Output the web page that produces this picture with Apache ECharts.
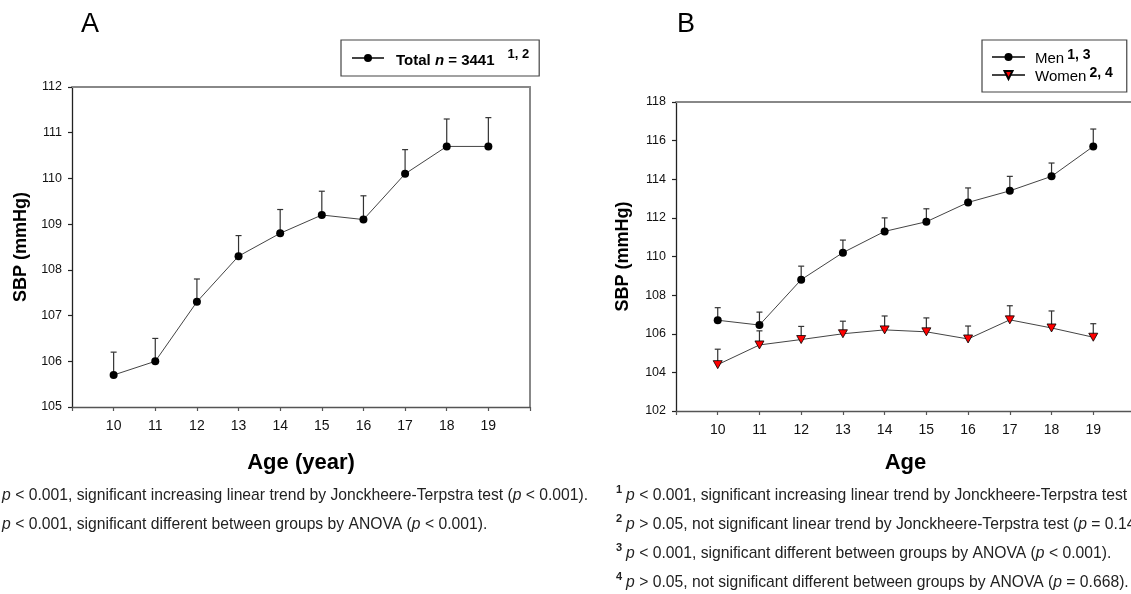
<!DOCTYPE html>
<html>
<head>
<meta charset="utf-8">
<script src="https://cdn.jsdelivr.net/npm/echarts@6/dist/echarts.min.js"></script>
<style>
  html, body { margin: 0; padding: 0; background: #fff; }
  #chart { width: 1131px; height: 594px; }
</style>
</head>
<body>
<div id="chart"></div>
<script>
// Age groups (years)
const ages = [10, 11, 12, 13, 14, 15, 16, 17, 18, 19];

// Panel A: whole sample, mean SBP and upper whisker (mmHg)
const totalMean  = [105.7, 106.0, 107.3, 108.3, 108.8, 109.2, 109.1, 110.1, 110.7, 110.7];
const totalUpper = [106.2, 106.5, 107.8, 108.75, 109.32, 109.72, 109.62, 110.63, 111.3, 111.33];

// Panel B: by sex
const menMean    = [106.7, 106.45, 108.8, 110.2, 111.3, 111.8, 112.8, 113.4, 114.15, 115.7];
const menUpper   = [107.35, 107.12, 109.5, 110.85, 112.0, 112.47, 113.55, 114.15, 114.84, 116.6];
const womenMean  = [104.4, 105.42, 105.7, 106.0, 106.2, 106.1, 105.73, 106.72, 106.3, 105.82];
const womenUpper = [105.2, 106.15, 106.38, 106.65, 106.92, 106.82, 106.4, 107.45, 107.18, 106.52];

// Axis ranges / ticks
const xRange = { min: 9, max: 20, interval: 1 };
const yRangeA = { min: 105, max: 112, interval: 1 };
const yRangeB = { min: 102, max: 118, interval: 2 };

// Footnote texts
const notesA = [
  ['1', 'p', ' < 0.001, significant increasing linear trend by Jonckheere-Terpstra test (', 'p', ' < 0.001).'],
  ['2', 'p', ' < 0.001, significant different between groups by ANOVA (', 'p', ' < 0.001).']
];
const notesB = [
  ['1', 'p', ' < 0.001, significant increasing linear trend by Jonckheere-Terpstra test (', 'p', ' < 0.001).'],
  ['2', 'p', ' > 0.05, not significant linear trend by Jonckheere-Terpstra test (', 'p', ' = 0.14).'],
  ['3', 'p', ' < 0.001, significant different between groups by ANOVA (', 'p', ' < 0.001).'],
  ['4', 'p', ' > 0.05, not significant different between groups by ANOVA (', 'p', ' = 0.668).']
];

const FONT = '"Liberation Sans", Arial, sans-serif';

function pairs(vals) { return ages.map((a, i) => [a, vals[i]]); }
function triples(mean, upper) { return ages.map((a, i) => [a, mean[i], upper[i]]); }

function errorBars(name, gi, mean, upper) {
  return {
    name: name,
    type: 'custom',
    xAxisIndex: gi * 2,
    yAxisIndex: gi * 2,
    silent: true,
    z: 1,
    encode: { x: 0, y: [1, 2] },
    data: triples(mean, upper),
    renderItem: function (params, api) {
      const p0 = api.coord([api.value(0), api.value(1)]);
      const p1 = api.coord([api.value(0), api.value(2)]);
      const st = { stroke: '#333', lineWidth: 1.2 };
      return {
        type: 'group',
        children: [
          { type: 'line', shape: { x1: p0[0], y1: p0[1], x2: p1[0], y2: p1[1] }, style: st },
          { type: 'line', shape: { x1: p1[0] - 3, y1: p1[1], x2: p1[0] + 3, y2: p1[1] }, style: st }
        ]
      };
    }
  };
}

function xAxes(gi, title, gap) {
  return [
    {
      gridIndex: gi, type: 'value', position: 'bottom',
      min: xRange.min, max: xRange.max, interval: xRange.interval,
      axisLine: { show: true, lineStyle: { color: '#555', width: 1.3 } },
      axisTick: { show: true, length: 4, lineStyle: { color: '#555', width: 1.2 } },
      axisLabel: {
        show: true, margin: 12, fontSize: 14, fontFamily: FONT, color: '#111',
        formatter: v => (v >= ages[0] && v <= ages[ages.length - 1]) ? String(v) : ''
      },
      splitLine: { show: false },
      name: title, nameLocation: 'middle', nameGap: gap,
      nameTextStyle: { fontSize: 22, fontWeight: 'bold', fontFamily: FONT, color: '#000' }
    },
    {
      gridIndex: gi, type: 'value', position: 'top',
      min: xRange.min, max: xRange.max, interval: xRange.interval,
      axisLine: { show: true, lineStyle: { color: '#888', width: 2 } },
      axisTick: { show: false }, axisLabel: { show: false }, splitLine: { show: false }
    }
  ];
}

function yAxes(gi, range, gap) {
  return [
    {
      gridIndex: gi, type: 'value', position: 'left',
      min: range.min, max: range.max, interval: range.interval,
      axisLine: { show: true, lineStyle: { color: '#222', width: 1.3 } },
      axisTick: { show: true, length: 4, lineStyle: { color: '#222', width: 1.2 } },
      axisLabel: { show: true, margin: 10, fontSize: 12.5, fontFamily: FONT, color: '#111' },
      splitLine: { show: false },
      name: 'SBP (mmHg)', nameLocation: 'middle', nameGap: gap,
      nameTextStyle: { fontSize: 18, fontWeight: 'bold', fontFamily: FONT, color: '#000' }
    },
    {
      gridIndex: gi, type: 'value', position: 'right',
      min: range.min, max: range.max, interval: range.interval,
      axisLine: { show: true, lineStyle: { color: '#888', width: 2 } },
      axisTick: { show: false }, axisLabel: { show: false }, splitLine: { show: false }
    }
  ];
}

function footnote(parts, left, top) {
  return {
    type: 'text', left: left, top: top, silent: true,
    style: {
      text: '{s|' + parts[0] + '}{i|' + parts[1] + '}{t|' + parts[2] + '}{i|' + parts[3] + '}{t|' + parts[4] + '}',
      fill: '#222',
      rich: {
        s: { fontSize: 11, fontWeight: 'bold', fontFamily: FONT, fill: '#222', lineHeight: 14, verticalAlign: 'top', padding: [0, 4, 0, 0] },
        i: { fontSize: 15.7, fontStyle: 'italic', fontFamily: FONT, fill: '#222', lineHeight: 20, verticalAlign: 'bottom' },
        t: { fontSize: 15.7, fontFamily: FONT, fill: '#222', lineHeight: 20, verticalAlign: 'bottom' }
      }
    }
  };
}

const graphics = [
  { type: 'text', left: 81, top: 11, silent: true, style: { text: 'A', font: '27px ' + FONT, fill: '#000' } },
  { type: 'text', left: 677, top: 11, silent: true, style: { text: 'B', font: '27px ' + FONT, fill: '#000' } }
];
notesA.forEach((n, i) => graphics.push(footnote(n, -8, 484 + i * 29)));
notesB.forEach((n, i) => graphics.push(footnote(n, 616, 484 + i * 29)));

const option = {
  animation: false,
  backgroundColor: '#fff',
  grid: [
    { left: 72, top: 87, width: 458, height: 320, containLabel: false, outerBoundsMode: 'none' },
    { left: 676, top: 102, width: 459, height: 309, containLabel: false, outerBoundsMode: 'none' }
  ],
  xAxis: xAxes(0, 'Age (year)', 45).concat(xAxes(1, 'Age', 41)),
  yAxis: yAxes(0, yRangeA, 42).concat(yAxes(1, yRangeB, 44)),
  legend: [
    {
      data: ['Total'], left: 341, top: 40, selectedMode: false,
      padding: [8, 10, 8, 10], itemWidth: 32, itemHeight: 10,
      borderColor: '#444', borderWidth: 1.2, backgroundColor: '#fff',
      formatter: () => '{b0|Total }{bi|n}{b| = 3441}{s|1, 2}',
      textStyle: {
        rich: {
          b0: { fontSize: 15, fontWeight: 'bold', fontFamily: FONT, color: '#000', lineHeight: 20, verticalAlign: 'bottom', padding: [0, 0, 0, 7] },
          b:  { fontSize: 15, fontWeight: 'bold', fontFamily: FONT, color: '#000', lineHeight: 20, verticalAlign: 'bottom' },
          bi: { fontSize: 15, fontWeight: 'bold', fontStyle: 'italic', fontFamily: FONT, color: '#000', lineHeight: 20, verticalAlign: 'bottom' },
          s:  { fontSize: 13, fontWeight: 'bold', fontFamily: FONT, color: '#000', lineHeight: 6, verticalAlign: 'top', padding: [0, 0, 0, 13] }
        }
      }
    },
    {
      data: ['Men', 'Women'], left: 982, top: 40, orient: 'vertical', selectedMode: false,
      padding: [8, 14, 8, 9], itemGap: 0, itemWidth: 33, itemHeight: 10,
      borderColor: '#444', borderWidth: 1.2, backgroundColor: '#fff',
      formatter: name => name === 'Men' ? '{t|Men}{s|1, 3}' : '{t|Women}{s|2, 4}',
      textStyle: {
        rich: {
          t: { fontSize: 15, fontFamily: FONT, color: '#000', lineHeight: 18, verticalAlign: 'bottom', padding: [0, 0, 0, 5] },
          s: { fontSize: 14, fontWeight: 'bold', fontFamily: FONT, color: '#000', lineHeight: 8, verticalAlign: 'top', padding: [0, 0, 0, 3] }
        }
      }
    }
  ],
  series: [
    errorBars('Total SD', 0, totalMean, totalUpper),
    {
      name: 'Total', type: 'line', xAxisIndex: 0, yAxisIndex: 0, z: 3,
      data: pairs(totalMean),
      symbol: 'circle', symbolSize: 8,
      itemStyle: { color: '#000' },
      lineStyle: { color: '#444', width: 1 }
    },
    errorBars('Men SD', 1, menMean, menUpper),
    errorBars('Women SD', 1, womenMean, womenUpper),
    {
      name: 'Men', type: 'line', xAxisIndex: 2, yAxisIndex: 2, z: 3,
      data: pairs(menMean),
      symbol: 'circle', symbolSize: 8,
      itemStyle: { color: '#000' },
      lineStyle: { color: '#444', width: 1 }
    },
    {
      name: 'Women', type: 'line', xAxisIndex: 2, yAxisIndex: 2, z: 3,
      data: pairs(womenMean),
      symbol: 'triangle', symbolSize: [9, 8], symbolRotate: 180,
      itemStyle: { color: '#ff0000', borderColor: '#000', borderWidth: 0.8 },
      lineStyle: { color: '#444', width: 1 }
    }
  ],
  graphic: graphics
};

const chart = echarts.init(document.getElementById('chart'), null, { renderer: 'canvas' });
chart.setOption(option);
</script>
</body>
</html>
